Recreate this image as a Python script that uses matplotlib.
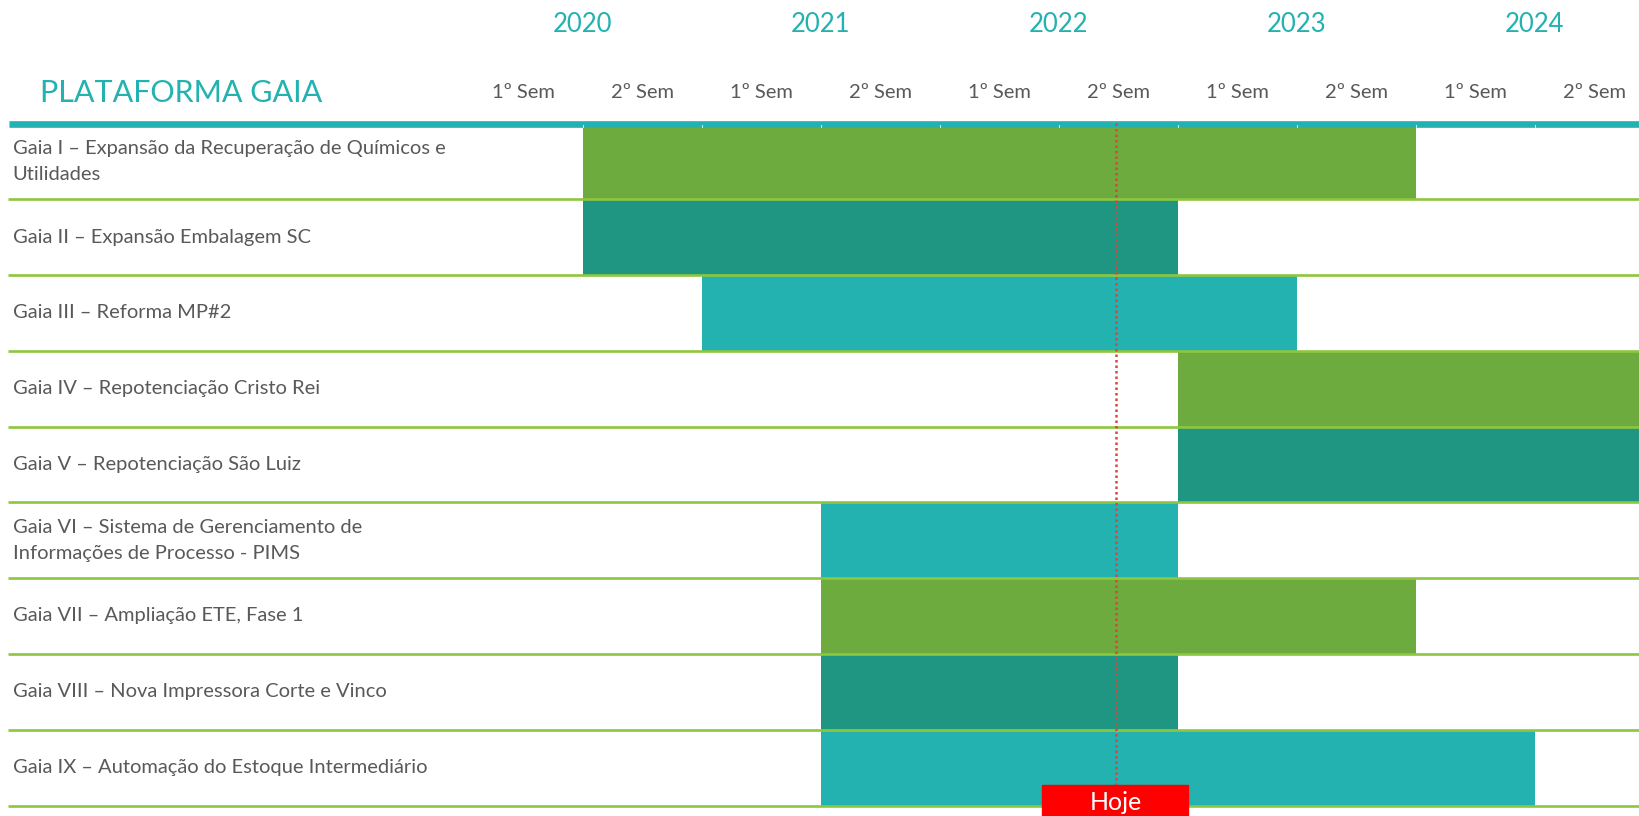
import matplotlib.pyplot as plt

# semester index: 0 = 1º Sem 2020 ... 9 = 2º Sem 2024
years = ["2020", "2021", "2022", "2023", "2024"]
semesters = ["1º Sem", "2º Sem"] * 5
projects = [
    "Gaia I – Expansão da Recuperação de Químicos e\nUtilidades",
    "Gaia II – Expansão Embalagem SC",
    "Gaia III – Reforma MP#2",
    "Gaia IV – Repotenciação Cristo Rei",
    "Gaia V – Repotenciação São Luiz",
    "Gaia VI – Sistema de Gerenciamento de\nInformações de Processo - PIMS",
    "Gaia VII – Ampliação ETE, Fase 1",
    "Gaia VIII – Nova Impressora Corte e Vinco",
    "Gaia IX – Automação do Estoque Intermediário",
]
start_sem = [1, 1, 2, 6, 6, 3, 3, 3, 3]
end_sem = [8, 6, 7, 10, 10, 6, 8, 6, 9]
today = 5.48

palette = ["#6EAB3F", "#1F9682", "#24B2B0"]
teal = "#24B2B0"
sep_green = "#8DC63F"
gray = "#58595B"

plt.rcParams["font.family"] = ["Lato", "DejaVu Sans"]

W, H = 1640, 816
x0_px, sem_px = 463.6, 119.0
y0_px, row_px = 123.3, 75.8

fig = plt.figure(figsize=(W / 100, H / 100), dpi=100)
ax = fig.add_axes([0, 0, 1, 1])
ax.set_xlim(-x0_px / sem_px, (W - x0_px) / sem_px)
ax.set_ylim((H - y0_px) / row_px, -y0_px / row_px)
ax.axis("off")

def px_x(p):
    return (p - x0_px) / sem_px

def px_y(p):
    return (p - y0_px) / row_px

n = len(projects)
for i in range(n):
    ax.barh(i, end_sem[i] - start_sem[i], left=start_sem[i], height=1.0,
            align="edge", color=palette[i % 3], zorder=2)
    ax.text(px_x(12.5), i + 0.5, projects[i], ha="left", va="center",
            fontsize=14.5, color=gray, linespacing=1.65)

xl, xr = ax.get_xlim()
for i in range(1, n + 1):
    ax.plot([px_x(8), xr], [i, i], color=sep_green, lw=1.9, zorder=3,
            solid_capstyle="butt")

# header
ax.plot([px_x(9), xr], [px_y(123.5), px_y(123.5)], color=teal, lw=4.8,
        zorder=3, solid_capstyle="butt")
for k in range(1, 10):
    ax.plot([k, k], [px_y(125), px_y(127)], color="#BFE8E7", lw=0.8, zorder=4)

ax.text(px_x(40), px_y(93), "PLATAFORMA GAIA", ha="left", va="center",
        fontsize=22, color=teal)
for j, yr in enumerate(years):
    ax.text(2 * j + 1, px_y(24), yr, ha="center", va="center",
            fontsize=18.5, color=teal)
for j, s in enumerate(semesters):
    ax.text(j + 0.5, px_y(92), s, ha="center", va="center",
            fontsize=14.5, color=gray)

# today marker
ax.plot([today, today], [0, px_y(785)], color="#D9473B", lw=1.8,
        linestyle=(0, (1, 1.2)), zorder=4)
ax.add_patch(plt.Rectangle((px_x(1042), px_y(785)), px_x(1188) - px_x(1042),
                           px_y(830) - px_y(785), color="#FF0000", zorder=5,
                           clip_on=False))
ax.text(today, px_y(802), "Hoje", ha="center", va="center", fontsize=18,
        color="white", zorder=6)

fig.savefig("out.png", dpi=100, facecolor="white")
